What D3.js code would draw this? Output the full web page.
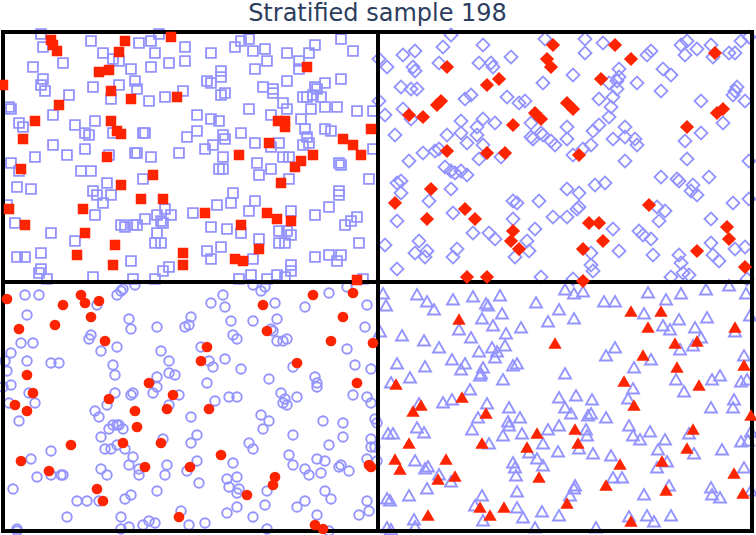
<!DOCTYPE html>
<html>
<head>
<meta charset="utf-8">
<script src="https://cdn.jsdelivr.net/npm/d3@7"></script>
<style>
	body { margin: 0; background: #fff; }
	svg { display: block; }
</style>
</head>
<body>
<div id="chart"></div>
<script>

///////////////////////////////////////////////////////////////////////////
////////////////////////////// The data ///////////////////////////////////
///////////////////////////////////////////////////////////////////////////

//Sample space is 750 x 500, split into 4 strata of 375 x 250
var strataX = [0, 375, 749],
	strataY = [0, 250, 499];

var titleText = "Stratified sample 198";

//Stratum 1 (top left) - squares
var squaresOpen = [
	[38,2],[156,2],[40,15],[88,9],[136,11],[148,9],[182,15],[100,21],[152,21],[110,27],[116,29],[60,31],[30,35],[128,37],[148,35],[166,31],[182,29],[40,47],[38,53],[42,59],[90,55],[116,53],[132,49],[134,57],[180,59],[66,63],[108,67],[146,69],[162,65],[6,75],[8,77],[50,83],[16,91],[20,95],[92,89],[72,93],[82,101],[86,103],[110,101],[140,101],[142,101],[184,105],[50,113],[82,117],[32,125],[64,123],[106,123],[132,121],[134,121],[148,125],[176,121],[8,131],[16,139],[78,139],[88,139],[140,147],[14,155],[28,157],[104,151],[90,159],[94,163],[108,163],[100,171],[4,173],[154,183],[162,177],[168,183],[190,181],[158,189],[160,191],[92,183],[142,187],[118,193],[122,195],[130,193],[134,193],[12,191],[48,201],[72,209],[154,201],[152,211],[158,211],[14,225],[22,225],[38,221],[128,229],[38,237],[36,241],[44,247],[90,245],[130,247],[152,247],[160,239],[166,235],
	[238,9],[246,7],[232,15],[208,21],[250,19],[262,17],[284,21],[306,21],[312,13],[338,7],[350,19],[264,29],[252,37],[296,29],[296,37],[218,39],[218,45],[204,49],[208,51],[284,49],[322,51],[338,47],[260,55],[270,57],[270,61],[218,63],[222,61],[312,55],[314,57],[300,65],[304,65],[310,63],[318,65],[280,71],[246,77],[284,77],[308,77],[322,75],[334,75],[354,79],[370,79],[194,83],[208,87],[216,89],[268,83],[298,87],[194,99],[220,103],[222,107],[238,101],[302,97],[304,105],[322,97],[328,99],[202,117],[210,113],[252,111],[276,111],[268,115],[300,113],[306,111],[370,117],[220,125],[280,125],[286,125],[254,131],[216,137],[220,137],[268,137],[256,143],[286,147],[336,131],[338,133],[366,147],[230,161],[228,171],[214,173],[252,169],[246,179],[288,179],[312,183],[326,175],[336,159],[336,163],[208,195],[224,197],[238,201],[276,199],[284,199],[288,203],[256,207],[276,211],[282,211],[342,193],[348,189],[354,185],[356,211],[204,219],[218,215],[208,227],[250,227],[312,225],[326,223],[334,229],[338,223],[288,233],[288,239],[236,247],[248,243],[264,247],[274,243],[282,245],[360,247]
];
var squaresSampled = [
	[48,8],[50,13],[54,19],[122,9],[168,5],[116,20],[96,40],[106,38],[0,53],[108,59],[128,67],[174,65],[56,73],[32,89],[108,89],[114,99],[118,102],[20,107],[104,125],[18,137],[150,143],[118,153],[138,167],[160,167],[6,177],[80,177],[22,193],[82,201],[112,213],[74,223],[110,233],[180,221],[180,233],
	[304,35],[275,89],[282,89],[282,95],[266,111],[236,123],[310,123],[298,129],[292,135],[278,151],[340,107],[350,113],[358,123],[368,97],[202,181],[264,181],[274,187],[288,189],[238,193],[256,217],[232,227],[240,229],[354,248]
];

//Stratum 2 (top right) - diamonds
var diamondsOpen = [
	[448,3],[542,7],[480,13],[440,15],[412,19],[400,23],[376,27],[384,35],[410,35],[412,39],[508,25],[476,31],[488,31],[490,35],[436,31],[398,55],[408,57],[414,57],[376,69],[382,83],[400,77],[540,51],[462,67],[468,63],[504,65],[516,71],[522,69],[392,103],[408,87],[444,103],[458,89],[458,101],[464,111],[474,95],[474,103],[480,87],[492,91],[528,91],[528,105],[530,107],[538,101],[540,103],[548,109],[552,113],[406,129],[420,121],[432,119],[436,117],[480,113],[476,127],[498,125],[442,135],[448,139],[452,141],[458,139],[464,143],[394,151],[398,149],[398,161],[448,157],[426,169],[510,169],[514,171],[536,169],[550,185],[394,189],[450,181],[510,187],[470,201],[486,201],[492,207],[532,197],[524,209],[526,219],[416,209],[412,221],[422,225],[424,219],[454,217],[450,225],[512,225],[382,213],[394,237],[538,245],
	[582,7],[582,21],[600,11],[570,43],[616,37],[616,45],[614,49],[606,51],[614,57],[634,51],[596,67],[610,65],[608,75],[606,85],[596,93],[590,99],[564,95],[564,107],[622,95],[610,107],[622,105],[632,107],[634,113],[588,113],[580,117],[570,123],[622,129],[644,23],[648,19],[660,37],[668,43],[658,59],[678,13],[682,23],[684,9],[694,17],[708,13],[710,25],[726,21],[732,21],[738,9],[746,5],[734,55],[732,59],[730,63],[742,69],[698,69],[720,91],[698,101],[682,109],[684,127],[746,129],[658,145],[674,147],[676,149],[706,145],[690,153],[688,159],[694,163],[730,171],[746,167],[564,157],[576,161],[592,153],[602,151],[564,185],[574,177],[576,175],[654,175],[662,179],[656,189],[708,187],[610,197],[636,199],[640,203],[648,207],[616,219],[650,223],[588,221],[588,233],[590,239],[708,211],[710,223],[716,229],[732,217],[742,215],[676,223],[678,231],[680,241],[686,243],[668,245],[744,247],[570,247]
];
var diamondsSampled = [
	[550,13],[544,27],[548,35],[444,35],[484,53],[496,47],[434,73],[438,69],[406,83],[420,85],[532,81],[538,87],[510,93],[444,119],[484,121],[502,121],[428,157],[392,171],[424,187],[462,177],[472,187],[510,199],[508,209],[516,217],[464,245],[484,245],
	[612,13],[628,27],[598,47],[712,21],[564,71],[570,77],[714,81],[720,77],[684,95],[576,123],[646,173],[586,191],[596,191],[600,209],[580,217],[724,195],[726,207],[694,219],[742,235],[580,249]
];

//Stratum 3 (bottom left) - circles
var circlesOpen = [
	[22,263],[36,263],[114,263],[118,259],[120,257],[132,253],[24,283],[94,273],[126,287],[128,297],[154,295],[182,295],[186,293],[188,285],[18,311],[30,311],[8,321],[2,329],[4,339],[24,329],[48,331],[56,331],[86,307],[88,303],[98,319],[114,315],[158,319],[166,329],[166,341],[172,343],[110,333],[112,343],[0,355],[8,353],[6,371],[26,361],[32,371],[16,389],[154,345],[154,355],[150,361],[112,361],[128,363],[130,361],[104,373],[92,379],[96,385],[106,397],[110,393],[114,393],[116,393],[120,397],[166,373],[176,363],[188,385],[98,405],[102,417],[108,417],[114,413],[122,417],[130,425],[126,433],[160,407],[188,411],[48,419],[28,427],[34,445],[48,443],[58,443],[60,443],[98,437],[104,443],[136,437],[136,443],[164,433],[162,443],[184,439],[10,457],[154,459],[74,469],[84,469],[96,469],[122,467],[128,463],[64,485],[118,485],[118,497],[126,495],[140,493],[146,489],[152,491],[178,479],[186,493],[14,497],[14,499],
	[220,263],[208,271],[222,275],[250,253],[258,259],[262,255],[272,271],[302,275],[326,261],[344,255],[364,273],[274,287],[228,289],[250,289],[268,297],[270,299],[230,303],[234,307],[274,309],[280,309],[284,307],[362,295],[344,317],[198,315],[206,329],[210,335],[222,327],[238,337],[266,347],[290,335],[352,333],[368,337],[204,351],[312,345],[314,351],[314,355],[212,369],[226,365],[234,365],[278,361],[282,367],[280,371],[284,373],[294,365],[350,363],[364,365],[368,371],[258,383],[266,389],[260,397],[320,389],[340,391],[372,387],[374,391],[194,403],[246,411],[250,417],[290,403],[340,405],[326,413],[368,407],[368,415],[372,415],[194,429],[230,431],[286,423],[290,433],[302,437],[306,443],[314,427],[322,429],[318,441],[336,435],[338,433],[346,439],[364,427],[374,429],[196,451],[224,447],[234,445],[226,455],[236,457],[234,461],[264,459],[262,473],[294,475],[302,469],[322,459],[328,467],[364,469],[366,479],[356,483],[234,475],[224,481],[250,485],[202,491],[264,497],[314,483],[326,499]
];
var circlesSampled = [
	[4,267],[78,263],[82,271],[96,269],[60,273],[88,285],[52,293],[16,297],[102,309],[24,343],[30,361],[12,373],[24,379],[106,367],[146,351],[170,363],[164,377],[132,379],[134,395],[120,411],[158,411],[68,413],[18,429],[46,439],[142,435],[187,435],[94,457],[100,469],[176,485],
	[260,273],[310,263],[350,261],[340,285],[264,299],[328,309],[370,311],[204,315],[198,329],[294,331],[354,351],[206,377],[218,423],[366,433],[368,435],[272,445],[270,453],[244,463],[312,493],[320,497]
];

//Stratum 4 (bottom right) - triangles
var trianglesOpen = [
	[380,263],[383,275],[414,264],[424,271],[431,279],[450,269],[470,266],[483,273],[485,275],[497,265],[533,272],[562,259],[556,279],[479,288],[499,283],[490,295],[456,299],[468,307],[503,303],[518,297],[545,291],[377,301],[399,305],[421,310],[436,317],[449,329],[462,333],[458,339],[476,321],[489,317],[494,321],[492,327],[502,315],[394,333],[422,336],[480,337],[478,343],[477,345],[510,335],[514,333],[562,343],[388,352],[407,347],[500,349],[467,359],[440,372],[449,369],[416,373],[484,373],[506,377],[475,387],[469,399],[505,391],[506,395],[517,387],[556,367],[556,395],[545,399],[385,403],[390,403],[414,397],[421,402],[486,413],[500,405],[519,403],[540,413],[412,430],[422,438],[425,436],[436,444],[448,451],[424,458],[510,432],[512,437],[513,445],[526,422],[534,428],[540,435],[555,421],[384,468],[387,470],[406,465],[472,475],[479,465],[514,461],[514,477],[520,487],[539,481],[556,485],[412,496],[411,489],[480,490],[384,497],[388,499],[532,497],
	[571,263],[580,261],[601,271],[612,271],[645,262],[663,269],[678,263],[703,259],[726,255],[743,263],[571,288],[641,283],[660,295],[667,299],[676,289],[692,297],[704,287],[698,307],[690,315],[677,319],[732,301],[747,285],[603,325],[612,317],[648,329],[631,337],[741,325],[673,349],[709,349],[717,345],[630,358],[625,368],[681,361],[738,351],[744,349],[573,365],[589,369],[562,377],[708,377],[730,377],[731,369],[568,383],[585,385],[588,383],[603,387],[583,399],[584,405],[626,395],[630,405],[637,409],[647,401],[662,409],[655,419],[686,403],[691,423],[719,419],[738,411],[745,410],[748,401],[576,418],[590,423],[608,425],[654,437],[664,431],[610,447],[619,447],[572,455],[571,458],[567,465],[641,464],[666,455],[708,457],[709,464],[717,467],[741,437],[748,460],[626,486],[644,485],[651,491],[668,485],[593,497]
];
var trianglesSampled = [
	[456,289],[552,313],[393,354],[459,367],[410,381],[418,375],[483,383],[406,413],[479,413],[534,403],[524,417],[392,429],[397,439],[443,429],[435,449],[452,446],[536,447],[477,477],[501,477],[487,485],[425,485],[564,473],
	[628,281],[658,281],[645,297],[672,313],[694,311],[732,297],[640,325],[674,337],[696,355],[621,351],[631,375],[741,335],[748,385],[572,399],[575,413],[690,399],[684,418],[617,434],[659,431],[603,455],[663,460],[731,443],[740,463],[628,491]
];

///////////////////////////////////////////////////////////////////////////
//////////////////////////// Set up the SVG ///////////////////////////////
///////////////////////////////////////////////////////////////////////////

var width = 756,
	height = 535;

var margin = {top: 32, right: 4, bottom: 4, left: 3};

var svg = d3.select("#chart")
	.append("svg")
	.attr("width", width)
	.attr("height", height);

var xScale = d3.scaleLinear()
	.domain([strataX[0], strataX[2]])
	.range([margin.left, width - margin.right]);

var yScale = d3.scaleLinear()
	.domain([strataY[0], strataY[2]])
	.range([margin.top, height - margin.bottom]);

var blue = "#9494ff",
	red = "#ff2400";

///////////////////////////////////////////////////////////////////////////
/////////////////////////////// Title /////////////////////////////////////
///////////////////////////////////////////////////////////////////////////

svg.append("text")
	.attr("x", (xScale(strataX[0]) + xScale(strataX[2])) / 2)
	.attr("y", 21)
	.attr("text-anchor", "middle")
	.style("font-family", "'DejaVu Sans', sans-serif")
	.style("font-size", "24px")
	.style("fill", "#2c3d5e")
	.text(titleText);

///////////////////////////////////////////////////////////////////////////
//////////////////////////// Draw the markers /////////////////////////////
///////////////////////////////////////////////////////////////////////////

//Diamonds are squares turned by 45 degrees
var shapes = {
	square:   {type: d3.symbolSquare,   open: 96, filled: 110, rotate: 0},
	diamond:  {type: d3.symbolSquare,   open: 84, filled: 100, rotate: 45},
	circle:   {type: d3.symbolCircle,   open: 72, filled: 90,  rotate: 0},
	triangle: {type: d3.symbolTriangle, open: 62, filled: 78,  rotate: 0}
};

function drawPoints(data, shape, filled, className) {
	var s = shapes[shape];
	var path = d3.symbol().type(s.type).size(filled ? s.filled : s.open);

	svg.append("g").attr("class", className)
		.selectAll("path")
		.data(data)
		.enter().append("path")
		.attr("d", path)
		.attr("transform", function(d) {
			return "translate(" + xScale(d[0]) + "," + yScale(d[1]) + ")" + (s.rotate ? " rotate(" + s.rotate + ")" : "");
		})
		.style("fill", filled ? red : "none")
		.style("stroke", filled ? "none" : blue)
		.style("stroke-width", filled ? 0 : 1.9);
}//function drawPoints

//Population first, underneath the frame
drawPoints(squaresOpen, "square", false, "pop-squares");
drawPoints(diamondsOpen, "diamond", false, "pop-diamonds");
drawPoints(circlesOpen, "circle", false, "pop-circles");
drawPoints(trianglesOpen, "triangle", false, "pop-triangles");

///////////////////////////////////////////////////////////////////////////
////////////////////////// Frame of the strata ////////////////////////////
///////////////////////////////////////////////////////////////////////////

var frame = svg.append("g").attr("class", "frame")
	.style("stroke", "#000")
	.style("stroke-width", 4)
	.style("fill", "none");

frame.append("rect")
	.attr("x", xScale(strataX[0]))
	.attr("y", yScale(strataY[0]))
	.attr("width", xScale(strataX[2]) - xScale(strataX[0]))
	.attr("height", yScale(strataY[2]) - yScale(strataY[0]));

frame.append("line")
	.attr("x1", xScale(strataX[1])).attr("x2", xScale(strataX[1]))
	.attr("y1", yScale(strataY[0])).attr("y2", yScale(strataY[2]));

frame.append("line")
	.attr("x1", xScale(strataX[0])).attr("x2", xScale(strataX[2]))
	.attr("y1", yScale(strataY[1])).attr("y2", yScale(strataY[1]));

//The sampled points on top
drawPoints(squaresSampled, "square", true, "sample-squares");
drawPoints(diamondsSampled, "diamond", true, "sample-diamonds");
drawPoints(circlesSampled, "circle", true, "sample-circles");
drawPoints(trianglesSampled, "triangle", true, "sample-triangles");

</script>
</body>
</html>
